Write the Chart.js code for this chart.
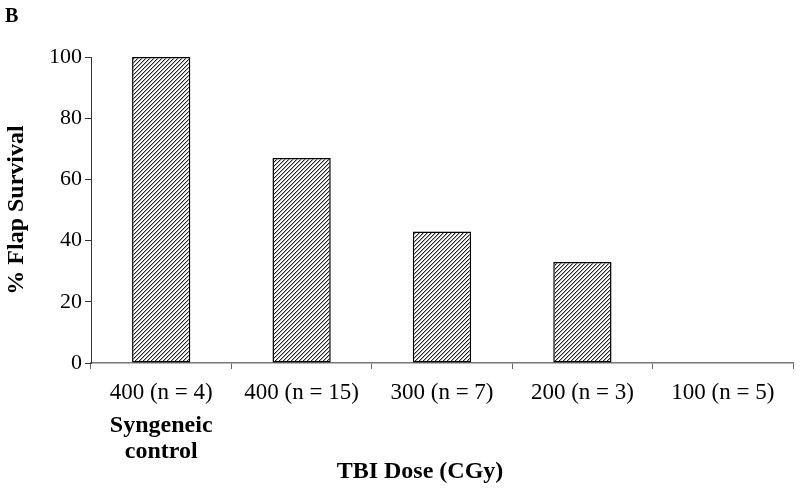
<!DOCTYPE html>
<html lang="en">
<head>
    <meta charset="UTF-8">
    <title>% Flap Survival by TBI Dose</title>
    <script src="https://cdn.jsdelivr.net/npm/chart.js"></script>
    <style>
        body {
            margin: 0;
            padding: 0;
            background-color: #ffffff;
        }
        .chart-container {
            position: relative;
            width: 800px;
            height: 488px;
        }
    </style>
</head>
<body>
    <div class="chart-container">
        <canvas id="survival-chart"></canvas>
    </div>

    <script>
        // Данные графика
        const categories = ['400 (n = 4)', '400 (n = 15)', '300 (n = 7)', '200 (n = 3)', '100 (n = 5)'];
        const subLabels = [['Syngeneic', 'control'], [], [], [], []];
        const survival = [100, 67, 43, 33, 0];
        const yTicks = [0, 20, 40, 60, 80, 100];

        const serif = "'Liberation Serif', 'Times New Roman', serif";

        // Штриховка для столбцов (линии "/")
        function makeHatch() {
            const size = 4;
            const c = document.createElement('canvas');
            c.width = size;
            c.height = size;
            const g = c.getContext('2d');
            g.fillStyle = '#ffffff';
            g.fillRect(0, 0, size, size);
            for (let i = 0; i < size; i++) {
                g.fillStyle = '#b0b0b0';
                g.fillRect(i, (2 * size - i) % size, 1, 1);
                g.fillStyle = '#222222';
                g.fillRect(i, size - 1 - i, 1, 1);
            }
            return g.createPattern(c, 'repeat');
        }

        // Подписи "B", "Syngeneic control" и название оси X
        const extraText = {
            id: 'extraText',
            afterDraw(chart) {
                const ctx = chart.ctx;
                const x = chart.scales.x;
                ctx.save();
                ctx.fillStyle = '#000';
                ctx.textBaseline = 'middle';
                ctx.font = 'bold 20px ' + serif;
                ctx.textAlign = 'left';
                ctx.fillText('B', 5, 17);
                ctx.textAlign = 'center';
                ctx.font = 'bold 24px ' + serif;
                subLabels.forEach(function(lines, i) {
                    lines.forEach(function(line, j) {
                        ctx.fillText(line, x.getPixelForValue(i), 426 + j * 26);
                    });
                });
                ctx.fillText('TBI Dose (CGy)', 420, 472);
                ctx.restore();
            }
        };

        const ctx = document.getElementById('survival-chart').getContext('2d');
        new Chart(ctx, {
            type: 'bar',
            data: {
                labels: categories,
                datasets: [{
                    data: survival,
                    backgroundColor: makeHatch(),
                    borderColor: '#000000',
                    borderWidth: 1.5,
                    borderSkipped: false,
                    categoryPercentage: 1.0,
                    barPercentage: 0.415
                }]
            },
            options: {
                responsive: true,
                maintainAspectRatio: false,
                animation: false,
                layout: {
                    padding: { top: 57, right: 7, bottom: 0, left: 0 }
                },
                plugins: {
                    legend: { display: false },
                    tooltip: { enabled: false }
                },
                scales: {
                    x: {
                        afterFit: function(scale) { scale.height = 125; },
                        grid: {
                            offset: true,
                            drawOnChartArea: false,
                            tickLength: 6,
                            color: '#666666'
                        },
                        border: { color: '#777777', width: 1.5 },
                        ticks: {
                            color: '#000',
                            padding: 10,
                            maxRotation: 0,
                            font: { family: serif, size: 23 }
                        }
                    },
                    y: {
                        min: 0,
                        max: 100,
                        afterFit: function(scale) { scale.width = 91; },
                        afterBuildTicks: function(scale) {
                            scale.ticks = yTicks.map(function(v) { return { value: v }; });
                        },
                        grid: {
                            drawOnChartArea: false,
                            tickLength: 6,
                            color: '#333333'
                        },
                        border: { color: '#333333', width: 1 },
                        ticks: {
                            color: '#000',
                            padding: 3,
                            font: { family: serif, size: 22 }
                        },
                        title: {
                            display: true,
                            text: '% Flap Survival',
                            color: '#000',
                            font: { family: serif, size: 24, weight: 'bold' },
                            padding: { top: 2, bottom: 0 }
                        }
                    }
                }
            },
            plugins: [extraText]
        });
    </script>
</body>
</html>
